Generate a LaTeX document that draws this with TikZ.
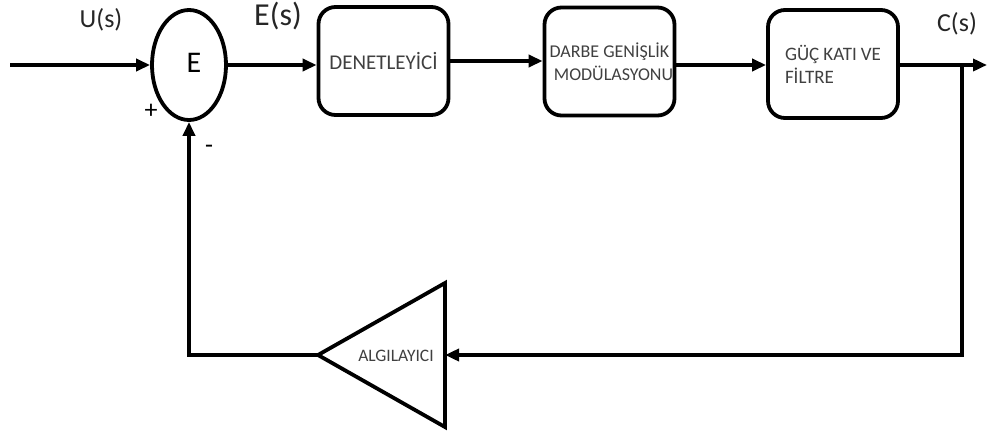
\documentclass[tikz,border=0pt]{standalone}
\usepackage{fontspec}
\setmainfont{Carlito}
\usetikzlibrary{arrows.meta,shapes.geometric}
\begin{document}
\begin{tikzpicture}[x=1pt,y=-1pt,
  wire/.style={line width=3.8pt,-{Triangle[length=14pt,width=12pt]}},
  edge/.style={line width=3.8pt,line join=miter},
  blk/.style={draw,line width=3.8pt,rounded corners=17pt,minimum width=130pt,
    minimum height=108pt,inner sep=0pt,text=black!75,font=\fontsize{18}{23}\selectfont},
  sig/.style={text=black!85,inner sep=0pt},
  sgn/.style={inner sep=0pt,font=\fontsize{26}{26}\selectfont}]
\useasboundingbox (0,0) rectangle (987,434);

% summing junction
\node[draw,ellipse,line width=3.8pt,minimum width=74pt,minimum height=110pt,inner sep=0pt,
  font=\fontsize{30}{30}\selectfont] (sum) at (189,65) {\raisebox{5pt}{\hspace{10pt}E}};

% forward path blocks
\node[blk,font=\fontsize{21}{24}\selectfont] (ctl) at (383.5,61) {DENETLEY\.{I}C\.{I}};
\node[blk,align=center] (pwm) at (609.5,61.5) {\raisebox{-7pt}{\parbox{130pt}{\centering DARBE GEN\.{I}\c{S}L\.{I}K\\\hspace*{8pt}MOD\"{U}LASYONU}}};
\node[blk,align=left,font=\fontsize{19}{23}\selectfont] (pow) at (833,64) {\raisebox{-5pt}{\parbox{96pt}{G\"{U}\c{C} KATI VE\\F\.{I}LTRE}}};

% sensor (triangle pointing left)
\coordinate (sTip) at (318,355);
\coordinate (sIn) at (445,355);
\draw[edge] (445,283) -- (445,427) -- (sTip) -- cycle;
\node[inner sep=0pt,text=black!75,font=\fontsize{17.5}{17.5}\selectfont] (sens) at (396,356) {ALGILAYICI};

% signals
\coordinate (in) at (10,65);
\coordinate (out) at (987,65);
\coordinate (br) at (962,65);
\draw[wire] (in) -- (sum.west);
\draw[wire] (sum.east) -- (sum.east -| ctl.west);
\draw[wire] (ctl.east) -- (ctl.east -| pwm.west);
\draw[wire] (pwm.east |- out) -- (pwm.east |- out -| pow.west);
\draw[wire] (pow.east |- out) -- (out);
\draw[wire] (br) -- (br |- sIn) -- (sIn);
\draw[wire] (sTip) -| (sum.south);

% labels
\node[sig,font=\fontsize{26}{26}\selectfont] (lu) at (101,20) {U(s)};
\node[sig,font=\fontsize{32}{32}\selectfont] (le) at (278,16) {E(s)};
\node[sig,font=\fontsize{26}{26}\selectfont] (lc) at (957,24) {C(s)};
\node[sgn] (plus) at (151,111) {+};
\node[sgn] (minus) at (209,149) {-};
\end{tikzpicture}
\end{document}
